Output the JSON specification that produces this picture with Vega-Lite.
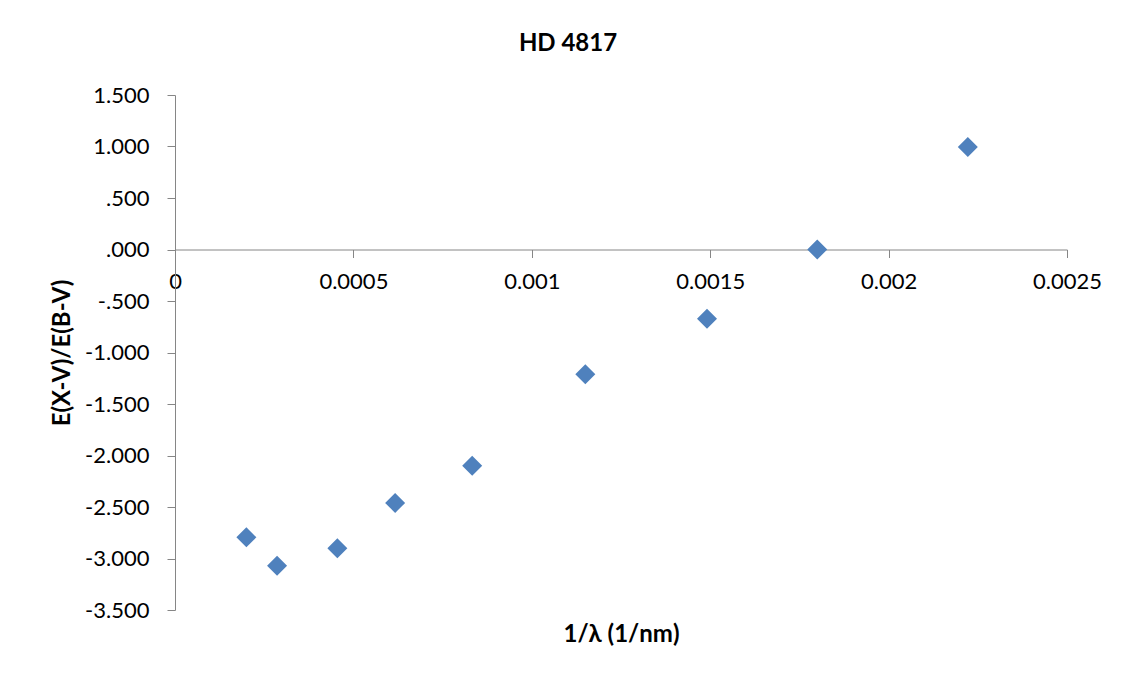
{
  "$schema": "https://vega.github.io/schema/vega-lite/v6.json",
  "autosize": "none",
  "width": 892,
  "height": 515,
  "padding": {"left": 175, "top": 95, "right": 56, "bottom": 69},
  "background": "white",
  "config": {
    "view": {"stroke": null},
    "font": "Lato",
    "axis": {"grid": false, "domainColor": "#868686", "tickColor": "#868686", "labelColor": "#000000", "titleColor": "#000000", "labelFont": "Lato", "titleFont": "Lato", "labelFontSize": 22, "titleFontSize": 24, "titleFontWeight": "bold", "tickSize": 8}
  },
  "title": {"text": "HD 4817", "font": "Lato", "fontSize": 24, "fontWeight": "bold", "color": "#000000", "dx": -53, "offset": 28},
  "data": {
    "values": [
      {"x": 0.0002, "y": -2.794},
      {"x": 0.000286, "y": -3.07},
      {"x": 0.000455, "y": -2.90},
      {"x": 0.000617, "y": -2.46},
      {"x": 0.000833, "y": -2.10},
      {"x": 0.00115, "y": -1.21},
      {"x": 0.001491, "y": -0.672},
      {"x": 0.0018, "y": 0.0},
      {"x": 0.002222, "y": 0.995}
    ]
  },
  "mark": {"type": "point", "shape": "diamond", "filled": true, "size": 400, "color": "#4F81BD", "opacity": 1},
  "encoding": {
    "x": {
      "field": "x", "type": "quantitative",
      "scale": {"domain": [0, 0.0025], "nice": false, "zero": false},
      "axis": {
        "title": "1/λ (1/nm)",
        "values": [0, 0.0005, 0.001, 0.0015, 0.002, 0.0025],
        "labelExpr": "format(datum.value, '~g')",
        "offset": -360.5,
        "labelPadding": 14,
        "labelFlush": false,
        "labelOverlap": false,
        "titleY": 385,
        "titleBaseline": "middle"
      }
    },
    "y": {
      "field": "y", "type": "quantitative",
      "scale": {"domain": [-3.5, 1.5], "nice": false, "zero": false},
      "axis": {
        "title": "E(X-V)/E(B-V)",
        "values": [-3.5, -3, -2.5, -2, -1.5, -1, -0.5, 0, 0.5, 1, 1.5],
        "labelExpr": "(datum.value < 0 ? '-' : '') + replace(format(abs(datum.value), '.3f'), /^0\\./, '.')",
        "labelPadding": 18,
        "labelFlush": false,
        "labelOverlap": false,
        "titleX": -113,
        "titleY": 257.5,
        "titleAlign": "center",
        "titleBaseline": "middle",
        "titleAngle": -90
      }
    }
  }
}
